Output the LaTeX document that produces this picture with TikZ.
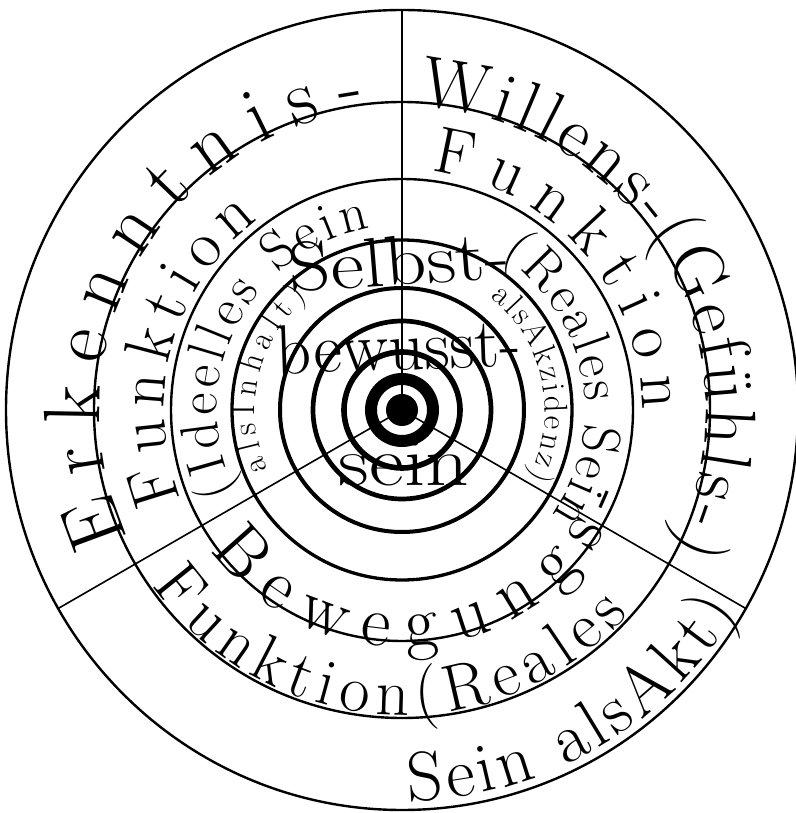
\documentclass[tikz,border=0pt]{standalone}
\usepackage{fontspec}
\usetikzlibrary{decorations.text}
\newcommand\fErk{\fontsize{80}{90}\selectfont}
\newcommand\fWil{\fontsize{72}{80}\selectfont}
\newcommand\fFun{\fontsize{66}{76}\selectfont}
\newcommand\fMid{\fontsize{54}{60}\selectfont}
\newcommand\fSml{\fontsize{33}{40}\selectfont}
\newcommand\fBew{\fontsize{72}{80}\selectfont}
\newcommand\fAkt{\fontsize{70}{80}\selectfont}
\newcommand\fCtr{\fontsize{70}{80}\selectfont}
\tikzset{
  ringline/.style={draw=black},
  spoke/.style={draw=black, line width=1.6pt},
  arctext/.style={decorate, decoration={text along path, text align=fit to path, text={#1}}},
  centerword/.style={font=\fCtr, anchor=base, inner sep=0pt},
}
\begin{document}
\begin{tikzpicture}[x=1pt,y=1pt]
\useasboundingbox (-402,-403) rectangle (393,410);
\coordinate (c) at (0,0);
\coordinate (s1) at (90:400pt);
\coordinate (s2) at (210:397pt);
\coordinate (s3) at (330:397pt);
% spokes
\draw[spoke] (c) -- (s1);
\draw[spoke] (c) -- (s2);
\draw[spoke] (c) -- (s3);
% rings
\draw[ringline, line width=2.4pt] (c) ellipse[x radius=396pt, y radius=400pt];
\draw[ringline, line width=2.4pt] (c) circle[radius=308pt];
\draw[ringline, line width=2.4pt] (c) circle[radius=231pt];
\draw[ringline, line width=3.3pt] (c) circle[radius=170pt];
\draw[ringline, line width=4pt] (c) circle[radius=122pt];
\draw[ringline, line width=4.7pt] (c) circle[radius=89pt];
\draw[ringline, line width=5.6pt] (c) circle[radius=58pt];
\draw[ringline, line width=12pt] (c) circle[radius=31pt];
\fill[black] (c) circle[radius=16pt];
% curved texts
\path[arctext={|\fErk|Erkenntnis-}] (205:302pt) arc[start angle=205, end angle=97, radius=302pt];
\path[arctext={|\fWil|Willens-(Gefühls-)}] (87:304pt) arc[start angle=87, end angle=-27, radius=304pt];
\path[arctext={|\fFun|Funktion}] (202:238pt) arc[start angle=202, end angle=127, radius=238pt];
\path[arctext={|\fFun|Funktion}] (83:240pt) arc[start angle=83, end angle=0, radius=240pt];
\path[arctext={|\fMid|(Ideelles Sein}] (206:185pt) arc[start angle=206, end angle=100, radius=185pt];
\path[arctext={|\fSml|alsInhalt)}] (204:147pt) arc[start angle=204, end angle=130, radius=147pt];
\path[arctext={|\fMid|(Reales Sein}] (57:183pt) arc[start angle=57, end angle=-35, radius=183pt];
\path[arctext={|\fSml|alsAkzidenz)}] (52:143pt) arc[start angle=52, end angle=-28, radius=143pt];
\path[arctext={|\fBew|Bewegungs-}] (216:237pt) arc[start angle=216, end angle=339, radius=237pt];
\path[arctext={|\fFun|Funktion(Reales}] (215:305pt) arc[start angle=215, end angle=318, radius=305pt];
\path[arctext={|\fAkt|Sein alsAkt)}] (271:391pt) arc[start angle=271, end angle=329, radius=391pt];
% centre words
\node[centerword, xscale=1.17, rotate=4] (selbst) at (-1,125) {Selbst-};
\node[centerword, rotate=2] (bewusst) at (-3,40) {bewusst-};
\node[centerword, xscale=1.22] (sein) at (2,-76) {sein};
\end{tikzpicture}
\end{document}
